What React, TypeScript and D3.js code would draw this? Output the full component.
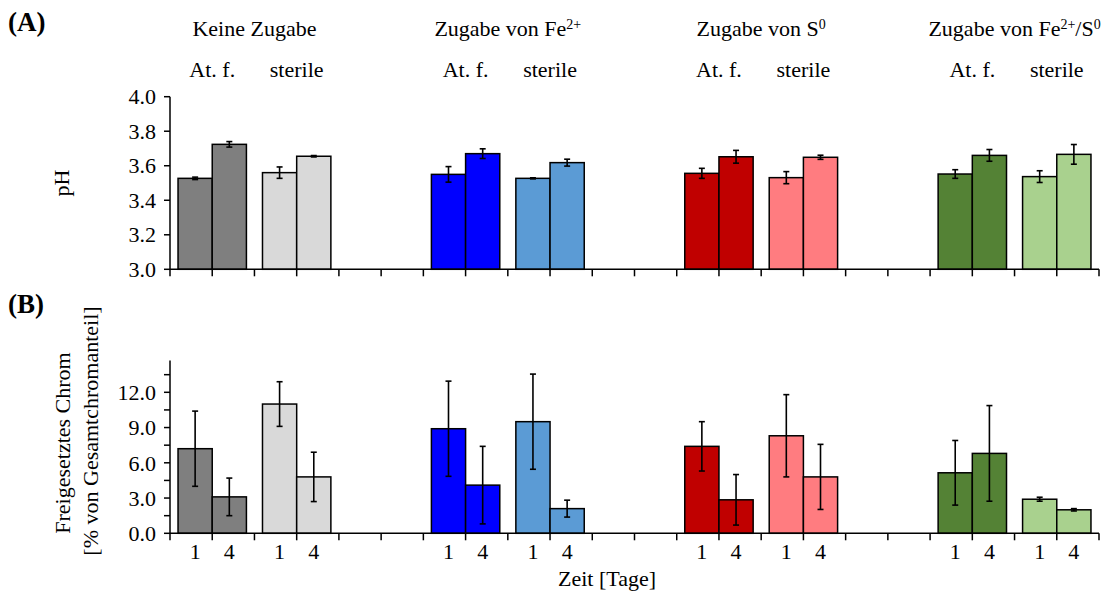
import React from 'react';
import * as d3 from 'd3';

// groups of treatment, each with At. f. and sterile series
const groups = ['Keine Zugabe', 'Zugabe von Fe', 'Zugabe von S', 'Zugabe von Fe'];
const treatments = ['At. f.', 'sterile'];
const days = ['1', '4'];

// series order: group0 At.f., group0 sterile, group1 At.f., ...
const seriesColors = ['#7f7f7f', '#d9d9d9', '#0000ff', '#5b9bd5', '#c00000', '#ff7c80', '#548235', '#a9d18e'];

// pH (panel A), [day 1, day 4]
const phMean = [
  [3.527, 3.724], [3.56, 3.655],
  [3.55, 3.67], [3.527, 3.618],
  [3.556, 3.652], [3.531, 3.649],
  [3.552, 3.66], [3.537, 3.666],
];
const phErr = [
  [0.007, 0.016], [0.033, 0.004],
  [0.045, 0.028], [0.003, 0.02],
  [0.029, 0.037], [0.035, 0.012],
  [0.025, 0.034], [0.034, 0.057],
];

// released chromium (panel B), [day 1, day 4]
const crMean = [
  [7.2, 3.1], [11.0, 4.8],
  [8.9, 4.1], [9.5, 2.1],
  [7.4, 2.85], [8.3, 4.8],
  [5.15, 6.8], [2.9, 2.0],
];
const crErr = [
  [3.2, 1.6], [1.9, 2.1],
  [4.05, 3.3], [4.05, 0.72],
  [2.1, 2.15], [3.5, 2.77],
  [2.75, 4.07], [0.17, 0.1],
];

const phTicks = [3.0, 3.2, 3.4, 3.6, 3.8, 4.0];
const crTicks = d3.range(0, 14.5, 1.5);
const crLabelTicks = [0, 3, 6, 9, 12];

const W = 1108;
const H = 592;
const font = 'Liberation Serif, serif';
const fs = 22;

const x0 = 170;
const x1 = 1099;
const nSlots = groups.length * 3 - 1;

const slot = d3.scaleBand<number>().domain(d3.range(nSlots)).range([x0, x1]).padding(0);
const dayScale = d3.scaleBand<string>().domain(days).range([0, slot.bandwidth()]).paddingInner(0).paddingOuter(0.235);

const slotOf = (s: number) => Math.floor(s / 2) * 3 + (s % 2);

const yA = d3.scaleLinear().domain([3, 4]).range([269.3, 96.7]);
const yB = d3.scaleLinear().domain([0, 14.7]).range([533.3, 533.3 - 14.7 * 11.75]);

const halfTicks = d3.range(nSlots * 2 + 1).map(k => x0 + (k * slot.step()) / 2);

function Panel({ y, mean, err, ticks, labelTicks, fmt }: any) {
  const [bottom, top] = y.range();
  return (
    <g>
      {mean.map((pair: number[], s: number) => (
        <g key={s}>
          {pair.map((v, d) => {
            const bx = slot(slotOf(s))! + dayScale(days[d])!;
            const cx = bx + dayScale.bandwidth() / 2;
            const e = err[s][d];
            return (
              <g key={d}>
                <rect x={bx} y={y(v)} width={dayScale.bandwidth()} height={bottom - y(v)}
                  fill={seriesColors[s]} stroke="#000" strokeWidth={1.5} />
                <line x1={cx} x2={cx} y1={y(v - e)} y2={y(v + e)} stroke="#000" strokeWidth={1.6} />
                <line x1={cx - 3} x2={cx + 3} y1={y(v - e)} y2={y(v - e)} stroke="#000" strokeWidth={1.6} />
                <line x1={cx - 3} x2={cx + 3} y1={y(v + e)} y2={y(v + e)} stroke="#000" strokeWidth={1.6} />
              </g>
            );
          })}
        </g>
      ))}
      {/* y axis */}
      <line x1={x0} x2={x0} y1={bottom} y2={top} stroke="#000" strokeWidth={1.5} />
      {ticks.map((t: number) => (
        <line key={t} x1={x0 - 6} x2={x0} y1={y(t)} y2={y(t)} stroke="#000" strokeWidth={1.5} />
      ))}
      {labelTicks.map((t: number) => (
        <text key={t} x={x0 - 14} y={y(t)} dy="0.35em" textAnchor="end" fontSize={fs}>{fmt(t)}</text>
      ))}
      {/* x axis */}
      <line x1={x0} x2={x1} y1={bottom} y2={bottom} stroke="#000" strokeWidth={1.5} />
      {halfTicks.map((t, k) => (
        <line key={k} x1={t} x2={t} y1={bottom} y2={bottom + 7} stroke="#000" strokeWidth={1.5} />
      ))}
    </g>
  );
}

function GroupTitle({ i, x }: { i: number; x: number }) {
  const sup = { dy: -7, fontSize: 14 };
  if (i === 1) return (
    <text x={x} y={36} textAnchor="middle" fontSize={fs}>{groups[i]}<tspan {...sup}>2+</tspan></text>
  );
  if (i === 2) return (
    <text x={x} y={36} textAnchor="middle" fontSize={fs}>{groups[i]}<tspan {...sup}>0</tspan></text>
  );
  if (i === 3) return (
    <text x={x} y={36} textAnchor="middle" fontSize={fs}>{groups[i]}<tspan {...sup}>2+</tspan><tspan dy={7}>/S</tspan><tspan {...sup}>0</tspan></text>
  );
  return <text x={x} y={36} textAnchor="middle" fontSize={fs}>{groups[i]}</text>;
}

export default function App() {
  const fmt1 = d3.format('.1f');
  return (
    <div style={{ position: 'absolute', left: 0, top: 0 }}>
      <svg width={W} height={H} style={{ display: 'block', background: '#fff', fontFamily: font }}>
        <text x={8} y={31} fontSize={27} fontWeight="bold">(A)</text>
        <text x={8} y={313} fontSize={27} fontWeight="bold">(B)</text>

        {groups.map((g, i) => {
          const cx = slot(i * 3)! + slot.step();
          return (
            <g key={i}>
              <GroupTitle i={i} x={cx} />
              {treatments.map((t, j) => (
                <text key={t} x={slot(i * 3 + j)! + slot.bandwidth() / 2} y={77} textAnchor="middle" fontSize={fs}>{t}</text>
              ))}
            </g>
          );
        })}

        <Panel y={yA} mean={phMean} err={phErr} ticks={phTicks} labelTicks={phTicks} fmt={fmt1} />
        <Panel y={yB} mean={crMean} err={crErr} ticks={crTicks} labelTicks={crLabelTicks} fmt={fmt1} />

        {/* day labels under panel B */}
        {crMean.map((_, s) => days.map(d => (
          <text key={`${s}-${d}`} x={slot(slotOf(s))! + dayScale(d)! + dayScale.bandwidth() / 2} y={559}
            textAnchor="middle" fontSize={fs}>{d}</text>
        )))}

        <text transform="translate(69,183) rotate(-90)" textAnchor="middle" fontSize={fs}>pH</text>
        <text transform="translate(70,443) rotate(-90)" textAnchor="middle" fontSize={fs}>Freigesetztes Chrom</text>
        <text transform="translate(98,431) rotate(-90)" textAnchor="middle" fontSize={fs}>[% von Gesamtchromanteil]</text>
        <text x={607} y={586} textAnchor="middle" fontSize={fs}>Zeit [Tage]</text>
      </svg>
    </div>
  );
}
